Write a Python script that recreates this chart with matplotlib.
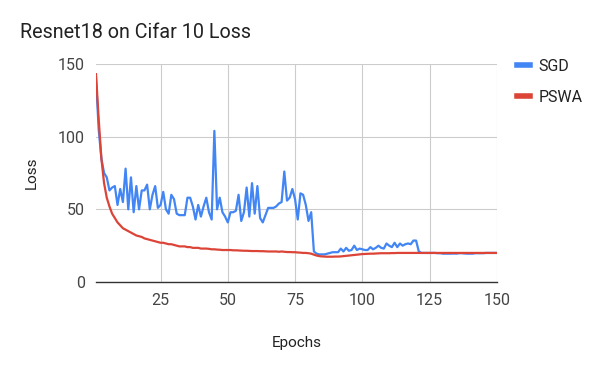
import matplotlib
matplotlib.use("Agg")
import matplotlib.pyplot as plt

plt.rcParams['font.family'] = ['Roboto', 'DejaVu Sans']

title = "Resnet18 on Cifar 10 Loss"
x_label = "Epochs"
y_label = "Loss"
series_names = ["SGD", "PSWA"]
x_ticks = [25, 50, 75, 100, 125, 150]
y_ticks = [0, 50, 100, 150]

epochs = list(range(1, 151))

sgd = [
    140, 105, 85, 75, 72, 63, 65, 66, 53, 64,
    55, 78, 50, 72, 48, 66, 50, 63, 63, 67,
    50, 60, 66, 51, 53, 62, 50, 47, 60, 57,
    47, 46, 46, 46, 58, 58, 52, 43, 53, 45,
    52, 58, 48, 43, 104, 50, 58, 48, 45, 41,
    48, 48, 49, 60, 42, 48, 65, 45, 68, 47,
    66, 44, 41, 46, 51, 51, 51, 52, 54, 55,
    76, 56, 58, 64, 57, 43, 61, 60, 53, 42,
    48, 21, 19.5, 19, 19, 19, 19.5, 20, 20.5, 20.5,
    20.5, 23, 21, 23.5, 21.5, 22, 25, 22, 23, 22.5,
    22, 22, 24, 22.5, 23.5, 25, 23.5, 23, 26.5, 25,
    24, 27, 24, 26.5, 25, 26, 26.5, 26, 28.5, 28.5,
    21, 20, 20, 20, 20, 20, 20, 19.8, 19.8, 19.5,
    19.5, 19.5, 19.5, 19.6, 19.5, 19.8, 19.8, 19.6, 19.5, 19.5,
    19.5, 19.8, 19.8, 19.8, 19.8, 20, 20, 20, 20, 20,
]

pswa = [
    143, 112, 85, 68, 58, 52, 47, 44, 41, 39,
    37, 36, 35, 34, 33, 32, 31.5, 31, 30, 29.5,
    29, 28.5, 28, 27.5, 27, 27, 26.5, 26, 26, 25.5,
    25, 24.5, 24.5, 24.5, 24, 24, 23.5, 23.5, 23.5, 23,
    23, 23, 22.8, 22.5, 22.5, 22.3, 22.2, 22, 22, 22,
    22, 21.8, 21.8, 21.7, 21.6, 21.5, 21.5, 21.4, 21.3, 21.3,
    21.3, 21.2, 21.2, 21.1, 21, 21, 21, 21, 20.8, 21,
    20.8, 20.6, 20.6, 20.5, 20.5, 20.3, 20.2, 20, 20, 19.8,
    19.5, 18.8, 18.2, 17.8, 17.6, 17.5, 17.4, 17.4, 17.4, 17.5,
    17.5, 17.6, 17.8, 18, 18.2, 18.4, 18.6, 18.8, 19, 19.2,
    19.3, 19.4, 19.5, 19.5, 19.6, 19.7, 19.8, 19.8, 19.8, 19.8,
    19.9, 19.9, 20, 20, 20, 20, 20, 20, 20, 20,
    20, 20, 20, 20, 20, 20, 20, 20, 20, 20,
    20, 20, 20, 20, 20, 20, 20, 20, 20, 20,
    20, 20, 20, 20, 20, 20, 20, 20, 20, 20,
]

fig = plt.figure(figsize=(6, 3.71), dpi=100)
ax = fig.add_axes([0.16, 0.2399, 0.668, 0.5876])

ax.plot(epochs, sgd, color='#4285F4', lw=1.6, label=series_names[0], zorder=3)
ax.plot(epochs, pswa, color='#DB4437', lw=1.6, label=series_names[1], zorder=4)

ax.set_xlim(1, 150)
ax.set_ylim(0, 150)
ax.set_xticks(x_ticks)
ax.set_yticks(y_ticks)
ax.grid(True, color='#cccccc', lw=0.8)
ax.set_axisbelow(True)
for s in ['top', 'right', 'left']:
    ax.spines[s].set_visible(False)
ax.spines['bottom'].set_color('#333333')
ax.spines['bottom'].set_linewidth(1.0)
ax.tick_params(length=0, labelsize=11.5, labelcolor='#444444', pad=8)

ax.set_xlabel(x_label, fontsize=11, color='#222222', labelpad=20)
ax.set_ylabel(y_label, fontsize=11, color='#222222', labelpad=14)

fig.text(20 / 600, 1 - 33 / 371, title, fontsize=14.2, color='#222222', va='center', ha='left')

leg = ax.legend(loc='upper left', bbox_to_anchor=(1.015, 1.09), frameon=False,
                fontsize=11.5, handlelength=0.8, handletextpad=0.55, labelspacing=1.0)
for line in leg.get_lines():
    line.set_linewidth(4)
for t in leg.get_texts():
    t.set_color('#222222')

fig.savefig('out.png', dpi=100)
